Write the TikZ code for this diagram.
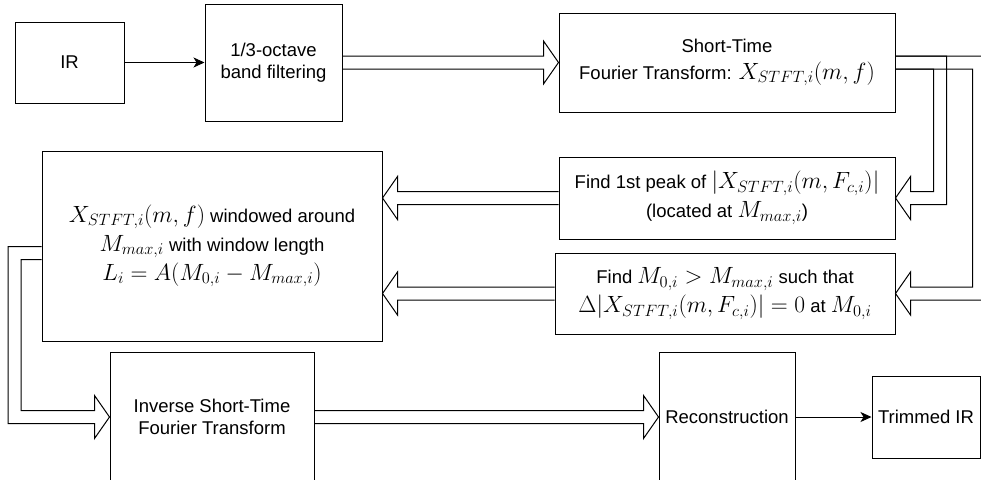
\RequirePackage{fix-cm}
\documentclass[tikz,border=0pt]{standalone}
\usepackage{fontspec}
\setmainfont{Liberation Sans}
\usetikzlibrary{calc,arrows.meta}
\DeclareMathSizes{18.5}{23.5}{16.4}{12.5}
\begin{document}
\begin{tikzpicture}[x=1pt,y=-1pt,
  box/.style={draw=black, line width=1pt, inner sep=0pt, align=center,
    font=\fontsize{18.5}{22}\selectfont},
  mbox/.style={box, font=\fontsize{18.5}{29}\selectfont},
  ha/.style={draw=black, line width=1pt, line join=miter},
  ta/.style={draw=black, line width=1pt, -{Stealth[length=11pt,width=10pt,inset=3pt]}}]
\useasboundingbox (0,0) rectangle (981,479);
\clip (0,0) rectangle (981,479);

% nodes
\node[box, minimum width=109pt, minimum height=81pt] (ir) at (69.5,62.5) {IR};
\node[box, minimum width=137pt, minimum height=117pt] (filt) at (273.5,62.5) {1/3-octave\\band filtering};
\node[mbox, minimum width=336pt, minimum height=99pt, font=\fontsize{18.5}{27}\selectfont] (stft) at (727,62.5) {Short-Time\\Fourier Transform: $X_{STFT,i}(m,f)$};
\node[mbox, minimum width=336pt, minimum height=82pt] (peak) at (727,198) {Find 1st peak of $|X_{STFT,i}(m,F_{c,i})|$\\(located at $M_{max,i}$)};
\node[mbox, minimum width=340pt, minimum height=81pt] (m0) at (725,293.5) {Find $M_{0,i}>M_{max,i}$ such that\\$\Delta|X_{STFT,i}(m,F_{c,i})|=0$ at $M_{0,i}$};
\node[mbox, minimum width=340pt, minimum height=190pt] (win) at (212,246) {$X_{STFT,i}(m,f)$ windowed around\\$M_{max,i}$ with window length\\$L_i=A(M_{0,i}-M_{max,i})$};
\node[box, minimum width=204pt, minimum height=130pt] (istft) at (212,417) {Inverse Short-Time\\Fourier Transform};
\node[box, minimum width=136pt, minimum height=130pt] (recon) at (727,417) {Reconstruction};
\node[box, minimum width=108pt, minimum height=82pt] (trim) at (926,417) {Trimmed IR};

% helper coordinates
\coordinate (sR1) at ($(stft.east)+(44.5,0)$);
\coordinate (pR1) at (sR1 |- peak.east);
\coordinate (sR2) at ($(stft.east)+(83.5,0)$);
\coordinate (mR2) at (sR2 |- m0.east);
\coordinate (wt1) at (win.east |- peak.west);
\coordinate (wt2) at (win.east |- m0.west);
\coordinate (wout) at ($(win.west)+(0,7)$);
\coordinate (wL) at ($(wout)+(-27,0)$);
\coordinate (iL) at (wL |- istft.west);

% thin arrows
\draw[ta] (ir) -- (filt);
\draw[ta] (recon) -- (trim);

% hollow arrows
\draw[ha] ($(filt.east)+(0,-6.5)$) -- ($(stft.west)+(-15,-6.5)$) -- ($(stft.west)+(-15,-21.5)$) -- (stft.west) -- ($(stft.west)+(-15,21.5)$) -- ($(stft.west)+(-15,6.5)$) -- ($(filt.east)+(0,6.5)$);

\draw[ha] ($(istft.east)+(0,-6.5)$) -- ($(recon.west)+(-15,-6.5)$) -- ($(recon.west)+(-15,-21.5)$) -- (recon.west) -- ($(recon.west)+(-15,21.5)$) -- ($(recon.west)+(-15,6.5)$) -- ($(istft.east)+(0,6.5)$);

\draw[ha] ($(peak.west)+(0,-6.5)$) -- ($(wt1)+(15,-6.5)$) -- ($(wt1)+(15,-21.5)$) -- (wt1) -- ($(wt1)+(15,21.5)$) -- ($(wt1)+(15,6.5)$) -- ($(peak.west)+(0,6.5)$);

\draw[ha] ($(m0.west)+(0,-6.5)$) -- ($(wt2)+(15,-6.5)$) -- ($(wt2)+(15,-21.5)$) -- (wt2) -- ($(wt2)+(15,21.5)$) -- ($(wt2)+(15,6.5)$) -- ($(m0.west)+(0,6.5)$);

% STFT -> M0 (outer loop, partly off the page)
\draw[ha] ($(stft.east)+(0,-6.5)$) -- ($(sR2)+(6.5,-6.5)$) -- ($(mR2)+(6.5,6.5)$) -- ($(m0.east)+(15,6.5)$) -- ($(m0.east)+(15,21.5)$) -- (m0.east) -- ($(m0.east)+(15,-21.5)$) -- ($(m0.east)+(15,-6.5)$) -- ($(mR2)+(-6.5,-6.5)$) -- ($(sR2)+(-6.5,6.5)$) -- ($(stft.east)+(0,6.5)$);

% STFT -> peak
\draw[ha] ($(stft.east)+(0,-6.5)$) -- ($(sR1)+(6.5,-6.5)$) -- ($(pR1)+(6.5,6.5)$) -- ($(peak.east)+(15,6.5)$) -- ($(peak.east)+(15,21.5)$) -- (peak.east) -- ($(peak.east)+(15,-21.5)$) -- ($(peak.east)+(15,-6.5)$) -- ($(pR1)+(-6.5,-6.5)$) -- ($(sR1)+(-6.5,6.5)$) -- ($(stft.east)+(0,6.5)$);

% window -> ISTFT
\draw[ha] ($(wout)+(0,-6.5)$) -- ($(wL)+(-6.5,-6.5)$) -- ($(iL)+(-6.5,6.5)$) -- ($(istft.west)+(-15,6.5)$) -- ($(istft.west)+(-15,21.5)$) -- (istft.west) -- ($(istft.west)+(-15,-21.5)$) -- ($(istft.west)+(-15,-6.5)$) -- ($(iL)+(6.5,-6.5)$) -- ($(wL)+(6.5,6.5)$) -- ($(wout)+(0,6.5)$);
\end{tikzpicture}
\end{document}
